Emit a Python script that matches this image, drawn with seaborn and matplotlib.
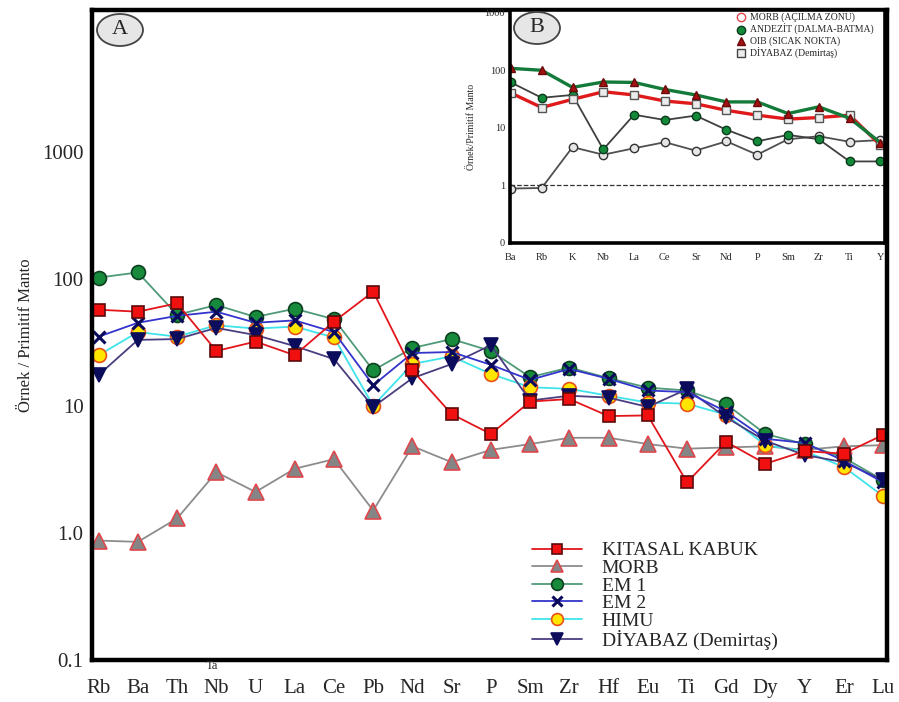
import numpy as np
import matplotlib
matplotlib.use('Agg')
import matplotlib.pyplot as plt
from matplotlib.lines import Line2D
from matplotlib.patches import Ellipse
from matplotlib.ticker import FixedLocator, FixedFormatter, NullLocator
import seaborn as sns

# --- data (normalised to primitive mantle) ---
elements = ['Rb', 'Ba', 'Th', 'Nb', 'U', 'La', 'Ce', 'Pb', 'Nd', 'Sr', 'P',
            'Sm', 'Zr', 'Hf', 'Eu', 'Ti', 'Gd', 'Dy', 'Y', 'Er', 'Lu']
kitasal = [57, 55, 64, 27, 32, 25, 46, 79, 19, 8.6, 6.0,
           10.8, 11.3, 8.3, 8.4, 2.5, 5.2, 3.5, 4.4, 4.2, 5.9]
morb = [0.87, 0.85, 1.3, 3.0, 2.1, 3.2, 3.8, 1.5, 4.8, 3.6, 4.5,
        5.0, 5.6, 5.6, 5.0, 4.6, 4.7, 4.8, 4.5, 4.8, 4.9]
em1 = [102, 112, 52, 62, 50, 58, 48, 19, 28.5, 33.5, 27,
       16.8, 20, 16.5, 13.9, 13.2, 10.3, 6.0, 5.0, 3.9, 2.6]
em2 = [35, 45, 51, 55, 45, 47, 38, 14.5, 26, 26.5, 21,
       16, 19.5, 16.3, 13.2, 12.8, 9.0, 5.5, 5.1, 3.7, 2.5]
himu = [25, 38, 35, 43, 40.5, 42, 34.5, 10, 21.3, 24.5, 17.8,
        14, 13.6, 12, 10.6, 10.4, 8.5, 4.9, 4.4, 3.3, 1.95]
diyabaz = [17.5, 33, 33.5, 41, 36, 29.5, 23.3, 9.8, 16.5, 21.3, 30,
           11, 12, 11.6, 9.8, 13.5, 8.1, 5.3, 4.1, 3.6, 2.6]

# inset B
elements_b = ['Ba', 'Rb', 'K', 'Nb', 'La', 'Ce', 'Sr', 'Nd', 'P', 'Sm', 'Zr', 'Ti', 'Y']
morb_b = [0.88, 0.9, 4.6, 3.4, 4.4, 5.6, 4.0, 5.8, 3.4, 6.3, 7.1, 5.7, 6.1]
andezit_b = [61, 33, 37, 4.2, 16.8, 13.6, 16.2, 9.2, 5.8, 7.5, 6.3, 2.6, 2.6]
oib_b = [107, 99, 50, 62, 61, 46, 37, 28, 28, 17.6, 23, 14.6, 5.5]
diyabaz_b = [40, 22.4, 31, 42, 37, 29, 26, 20, 16.5, 14.1, 15, 16.5, 5.0]
ref_level = 1

sns.set_style('white')
plt.rcParams['font.family'] = ['Liberation Serif', 'DejaVu Serif']

W, H = 899, 702
fig = plt.figure(figsize=(W / 100, H / 100), dpi=100)
ax = fig.add_axes([92 / W, 1 - 660 / H, (887 - 92) / W, (660 - 10) / H])

xs = np.arange(len(elements))
series = [
    # label, values, line colour, marker, face, edge, size
    ('MORB', morb, '#8c8c8c', '^', '#858585', '#e0474c', 11),
    ('EM 1', em1, '#4f9a78', 'o', '#178a3c', '#0d3f20', 10),
    ('HIMU', himu, '#3fe3ea', 'o', '#ffe600', '#e8501a', 10),
    ('DİYABAZ (Demirtaş)', diyabaz, '#4a3d80', 'v', '#0c0c5c', '#0c0c5c', 10),
    ('EM 2', em2, '#3434cc', 'x', '#0b0b5e', '#0b0b5e', 9),
    ('KITASAL KABUK', kitasal, '#e3161c', 's', '#f01010', '#5a0a0a', 9),
]
handles = {}
for lab, vals, lc, mk, fc, ec, ms in series:
    sns.lineplot(x=xs, y=vals, ax=ax, sort=False, color=lc, lw=1.3,
                 marker=mk, markersize=ms, markerfacecolor=fc, markeredgecolor=ec,
                 markeredgewidth=2.2 if mk == 'x' else 1.2, label=lab)
for h, l in zip(*ax.get_legend_handles_labels()):
    handles[l] = h

ax.set_yscale('log')
ax.set_ylim(0.1, 13000)
ax.set_xlim(-0.17, 20.1)
ax.yaxis.set_major_locator(FixedLocator([0.1, 1, 10, 100, 1000]))
ax.yaxis.set_major_formatter(FixedFormatter(['0.1', '1.0', '10', '100', '1000']))
ax.yaxis.set_minor_locator(NullLocator())
ax.set_xticks(xs)
ax.set_xticklabels(elements)
ax.tick_params(axis='y', direction='in', length=9, width=2, labelsize=15, pad=6)
ax.tick_params(axis='x', direction='out', length=10, width=1.6, labelsize=15, pad=4)
for s in ax.spines.values():
    s.set_linewidth(3.2)
    s.set_color('black')
ax.set_xlabel('')
ax.set_ylabel('Örnek / Primitif Manto', fontsize=12, labelpad=6)
ax.text(3 - 0.1, 0.0, 'Ta', transform=ax.get_xaxis_transform(), ha='center',
        va='top', fontsize=9)

order = ['KITASAL KABUK', 'MORB', 'EM 1', 'EM 2', 'HIMU', 'DİYABAZ (Demirtaş)']
ax.legend([handles[k] for k in order], order, loc='upper left',
          bbox_to_anchor=(524 / W, 1 - 534 / H), bbox_transform=fig.transFigure,
          frameon=False, fontsize=14, handlelength=2.6, handletextpad=1.0,
          labelspacing=0.0, borderaxespad=0, markerscale=0.85)

# --- inset B ---
axb = fig.add_axes([510 / W, 1 - 243 / H, (885 - 510) / W, (243 - 10) / H])
axb.set_facecolor('white')
xb = np.arange(len(elements_b))
inset_series = [
    (morb_b, '#505050', 'o', '#e6e6e6', '#333333', 1.3),
    (andezit_b, '#404040', 'o', '#138a3a', '#0b3a1c', 1.3),
    (diyabaz_b, '#e01a1a', 's', '#ececec', '#555555', 2.4),
    (oib_b, '#137a3a', '^', '#a51212', '#6a0a0a', 2.4),
]
for vals, lc, mk, fc, ec, lw in inset_series:
    sns.lineplot(x=xb, y=vals, ax=axb, sort=False, color=lc, lw=lw, marker=mk,
                 markersize=6, markerfacecolor=fc, markeredgecolor=ec,
                 markeredgewidth=1.0)
axb.axhline(ref_level, ls='--', color='#333333', lw=0.9)
axb.set_yscale('log')
axb.set_ylim(0.1, 1100)
axb.set_xlim(-0.03, 12.15)
axb.yaxis.set_major_locator(FixedLocator([0.1, 1, 10, 100, 1000]))
axb.yaxis.set_major_formatter(FixedFormatter(['0', '1', '10', '100', '1000']))
axb.yaxis.set_minor_locator(NullLocator())
axb.set_xticks(xb)
axb.set_xticklabels(elements_b)
axb.tick_params(axis='both', direction='in', length=6, width=1.5, labelsize=7.5)
axb.tick_params(axis='x', pad=7)
for s in axb.spines.values():
    s.set_linewidth(2.6)
    s.set_color('black')
axb.set_xlabel('')
axb.set_ylabel('Örnek/Primitif Manto', fontsize=7, labelpad=6)

leg_b = [
    Line2D([], [], ls='none', marker='o', ms=6, mfc='white', mec='#e0474c'),
    Line2D([], [], ls='none', marker='o', ms=6, mfc='#138a3a', mec='#0b3a1c'),
    Line2D([], [], ls='none', marker='^', ms=6, mfc='#a51212', mec='#6a0a0a'),
    Line2D([], [], ls='none', marker='s', ms=6, mfc='#ececec', mec='#444444'),
]
axb.legend(leg_b, ['MORB (AÇILMA ZONU)', 'ANDEZİT (DALMA-BATMA)',
                   'OIB (SICAK NOKTA)', 'DİYABAZ (Demirtaş)'],
           loc='upper left', bbox_to_anchor=(733 / W, 1 - 9 / H),
           bbox_transform=fig.transFigure, frameon=False, fontsize=7,
           handlelength=0.8, handletextpad=0.6, labelspacing=0.15, borderaxespad=0)

# panel labels
for cx, cy, txt in [(120, 30, 'A'), (537, 28, 'B')]:
    fig.add_artist(Ellipse((cx / W, 1 - cy / H), 46 / W, 32 / H,
                           transform=fig.transFigure, fc='#e6e6e6', ec='#444444',
                           lw=1.3, zorder=10))
    fig.text(cx / W, 1 - cy / H, txt, ha='center', va='center', fontsize=16,
             zorder=11)

fig.savefig('out.png', dpi=100)
